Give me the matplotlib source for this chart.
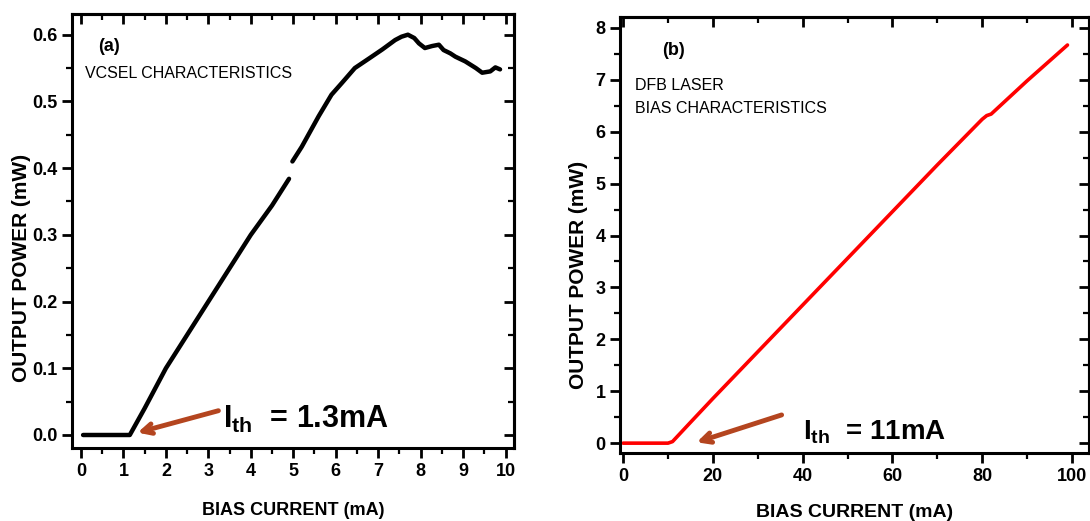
import numpy as np
import matplotlib
matplotlib.use("Agg")
import matplotlib.pyplot as plt
from matplotlib.ticker import MultipleLocator, FormatStrFormatter

plt.rcParams['font.family'] = ['Liberation Sans', 'DejaVu Sans']
plt.rcParams['font.weight'] = 'bold'
plt.rcParams['mathtext.fontset'] = 'custom'
plt.rcParams['mathtext.rm'] = 'Liberation Sans:bold'
plt.rcParams['mathtext.it'] = 'Liberation Sans:bold'
plt.rcParams['mathtext.bf'] = 'Liberation Sans:bold'

# ---- data: (a) VCSEL ----
vcsel_current = [0.05, 0.3, 0.6, 0.9, 1.15, 1.5, 2.0, 2.5, 3.0, 3.5, 4.0, 4.5, 4.9, np.nan,
                 4.98, 5.2, 5.4, 5.6, 5.9, 6.15, 6.45, 6.8, 7.1, 7.4, 7.55, 7.7, 7.85, 7.96,
                 8.1, 8.27, 8.43, 8.54, 8.7, 8.82, 9.05, 9.3, 9.45, 9.64, 9.76, 9.87]
vcsel_power = [0, 0, 0, 0, 0, 0.04, 0.1, 0.15, 0.2, 0.25, 0.3, 0.344, 0.384, np.nan,
               0.41, 0.432, 0.455, 0.478, 0.51, 0.528, 0.55, 0.565, 0.578, 0.592, 0.597, 0.6, 0.595, 0.587,
               0.58, 0.583, 0.585, 0.577, 0.572, 0.567, 0.56, 0.55, 0.543, 0.545, 0.551, 0.548]

# ---- data: (b) DFB laser ----
dfb_current = [0, 5, 10, 11, 15, 20, 30, 40, 50, 60, 70, 80, 81, 82, 90, 99]
dfb_power = [0, 0, 0, 0.03, 0.4, 0.86, 1.76, 2.66, 3.56, 4.46, 5.36, 6.24, 6.31, 6.34, 6.98, 7.67]

arrow_color = '#B4451F'
tick_fs = 13

fig = plt.figure(figsize=(10.9, 5.21), dpi=100)
axA = fig.add_axes([0.0661, 0.1401, 0.4055, 0.833])
axB = fig.add_axes([0.5688, 0.1305, 0.4303, 0.8369])


def style(ax, xmaj, xmin, ymaj, ymin, yfmt):
    for s in ax.spines.values():
        s.set_linewidth(2.2)
    ax.xaxis.set_major_locator(MultipleLocator(xmaj))
    ax.xaxis.set_minor_locator(MultipleLocator(xmin))
    ax.yaxis.set_major_locator(MultipleLocator(ymaj))
    ax.yaxis.set_minor_locator(MultipleLocator(ymin))
    ax.yaxis.set_major_formatter(FormatStrFormatter(yfmt))
    ax.tick_params(which='major', direction='out', length=7, width=2, labelsize=tick_fs)
    ax.tick_params(which='minor', direction='out', length=4, width=1.6)
    top = ax.secondary_xaxis('top')
    top.xaxis.set_major_locator(MultipleLocator(xmaj))
    top.xaxis.set_minor_locator(MultipleLocator(xmin))
    top.tick_params(which='major', direction='in', length=7, width=2, labeltop=False)
    top.tick_params(which='minor', direction='in', length=4, width=1.6)
    top.spines['top'].set_linewidth(2.2)
    right = ax.secondary_yaxis('right')
    right.yaxis.set_major_locator(MultipleLocator(ymaj))
    right.yaxis.set_minor_locator(MultipleLocator(ymin))
    right.tick_params(which='major', direction='in', length=7, width=2, labelright=False)
    right.tick_params(which='minor', direction='in', length=4, width=1.6)
    right.spines['right'].set_linewidth(2.2)


# ---- panel (a) ----
axA.plot(vcsel_current, vcsel_power, color='black', lw=3.2, solid_capstyle='round')
axA.set_xlim(-0.21, 10.2)
axA.set_ylim(-0.0195, 0.631)
style(axA, 1, 0.5, 0.1, 0.05, '%.1f')
axA.set_xlabel('BIAS CURRENT (mA)', fontsize=13, fontweight='bold')
axA.xaxis.set_label_coords(0.5, -0.125)
axA.set_ylabel('OUTPUT POWER (mW)', fontsize=15, fontweight='bold')
axA.yaxis.set_label_coords(-0.092, 0.415)
axA.text(0.059, 0.926, '(a)', transform=axA.transAxes, fontsize=13, fontweight='bold', va='center')
axA.text(0.029, 0.862, 'VCSEL CHARACTERISTICS', transform=axA.transAxes, fontsize=11.5,
         fontweight='normal', va='center')
axA.annotate('', xy=(1.27, 0.0025), xytext=(3.30, 0.0375),
             arrowprops=dict(arrowstyle='->,head_length=0.7,head_width=0.35', lw=3.5, color=arrow_color))
axA.text(0.342, 0.046, r'$\mathregular{I_{th}}$  = 1.3mA', transform=axA.transAxes,
         fontsize=22, fontweight='bold', va='baseline')

# ---- panel (b) ----
axB.plot(dfb_current, dfb_power, color='#FF0000', lw=2.6, solid_capstyle='round')
axB.set_xlim(-0.7, 103.8)
axB.set_ylim(-0.19, 8.21)
style(axB, 20, 10, 1, 0.5, '%d')
axB.set_xlabel('BIAS CURRENT (mA)', fontsize=14, fontweight='bold')
axB.xaxis.set_label_coords(0.5, -0.117)
axB.set_ylabel('OUTPUT POWER (mW)', fontsize=15, fontweight='bold')
axB.yaxis.set_label_coords(-0.068, 0.408)
axB.text(0.0896, 0.924, '(b)', transform=axB.transAxes, fontsize=13, fontweight='bold', va='center')
axB.text(0.032, 0.844, 'DFB LASER', transform=axB.transAxes, fontsize=11.5, fontweight='normal', va='center')
axB.text(0.032, 0.791, 'BIAS CHARACTERISTICS', transform=axB.transAxes, fontsize=11.5,
         fontweight='normal', va='center')
axB.annotate('', xy=(15.8, 0.0), xytext=(35.9, 0.56),
             arrowprops=dict(arrowstyle='->,head_length=0.7,head_width=0.35', lw=3.5, color=arrow_color))
axB.text(0.390, 0.030, r'$\mathregular{I_{th}}$  = 11mA', transform=axB.transAxes,
         fontsize=20, fontweight='bold', va='baseline')

fig.savefig('out.png', dpi=100)
